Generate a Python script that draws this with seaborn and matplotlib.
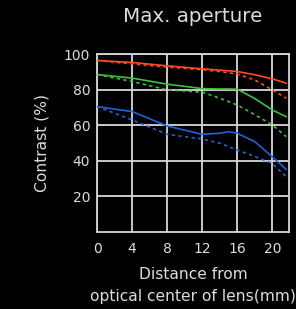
import matplotlib
matplotlib.use("Agg")
import matplotlib.pyplot as plt
import seaborn as sns
import pandas as pd

x_pos = [0, 4, 8, 12, 14, 15, 16, 18, 20, 21.6]
red_solid    = [96.4, 95.3, 93.4, 91.7, 91.0, 90.6, 90.2, 88.4, 86.1, 83.6]
red_dashed   = [96.4, 94.5, 92.7, 91.2, 90.2, 89.5, 88.7, 85.5, 79.9, 75.2]
green_solid  = [88.5, 86.5, 83.1, 80.6, 80.4, 80.4, 80.3, 75.0, 68.6, 64.8]
green_dashed = [88.5, 84.6, 79.9, 78.6, 75.2, 73.3, 71.4, 66.0, 60.2, 53.6]
blue_solid   = [70.5, 67.7, 59.6, 54.9, 55.5, 56.4, 55.5, 50.8, 42.3, 35.2]
blue_dashed  = [70.5, 63.0, 54.9, 52.3, 50.0, 48.0, 46.1, 42.5, 38.5, 31.0]

series = {
    ("red", "solid"): red_solid, ("red", "dashed"): red_dashed,
    ("green", "solid"): green_solid, ("green", "dashed"): green_dashed,
    ("blue", "solid"): blue_solid, ("blue", "dashed"): blue_dashed,
}
rows = []
for (c, s), vals in series.items():
    for xv, yv in zip(x_pos, vals):
        rows.append({"x": xv, "y": yv, "color": c, "style": s})
df = pd.DataFrame(rows)

sns.set_theme(style="dark")
plt.rcParams["font.family"] = ["DejaVu Sans"]
txt = "#dcdcdc"
fig = plt.figure(figsize=(2.96, 3.09), dpi=100, facecolor="black")
ax = fig.add_axes([0.328, 0.249, 0.648, 0.576])
ax.set_facecolor("black")

palette = {"red": "#ff4a1c", "green": "#3fbf3a", "blue": "#1f63d8"}
sns.lineplot(data=df, x="x", y="y", hue="color", style="style", palette=palette,
             dashes={"solid": "", "dashed": (2, 2)}, linewidth=1.2, ax=ax, legend=False,
             sort=False, estimator=None, zorder=3)

ax.set_xlim(0, 21.9)
ax.set_ylim(0, 100)
ax.set_xticks([0, 4, 8, 12, 16, 20])
ax.set_yticks([20, 40, 60, 80, 100])
ax.grid(True, color="#d8d8d8", linewidth=1.3)
for sp in ax.spines.values():
    sp.set_visible(True)
    sp.set_color("#d8d8d8")
    sp.set_linewidth(1.3)
ax.tick_params(axis="y", colors=txt, labelsize=10, length=0, pad=5)
ax.tick_params(axis="x", colors=txt, labelsize=10, length=0, pad=7)
ax.set_xlabel("Distance from\noptical center of lens(mm)", color=txt, fontsize=11.2, labelpad=8, linespacing=1.6)
ax.set_ylabel("Contrast (%)", color=txt, fontsize=11.2, labelpad=10)
ax.set_title("Max. aperture", color=txt, fontsize=14.3, pad=23)
fig.savefig("out.png", dpi=100, facecolor="black")
